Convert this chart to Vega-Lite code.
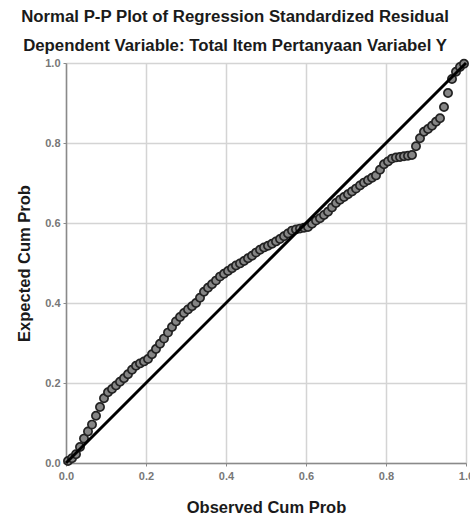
{
  "$schema": "https://vega.github.io/schema/vega-lite/v6.json",
  "autosize": "none",
  "width": 400,
  "height": 400,
  "padding": {"left": 66, "top": 63, "right": 4, "bottom": 53},
  "background": "white",
  "title": {
    "text": "Normal P-P Plot of Regression Standardized Residual",
    "subtitle": "Dependent Variable: Total Item Pertanyaan Variabel Y",
    "anchor": "middle",
    "dx": -31,
    "offset": 1,
    "font": "Liberation Sans",
    "fontSize": 16.8,
    "fontWeight": "bold",
    "color": "#1a1a1a",
    "subtitleFont": "Liberation Sans",
    "subtitleFontSize": 16.8,
    "subtitleFontWeight": "bold",
    "subtitleColor": "#1a1a1a",
    "subtitlePadding": 13
  },
  "config": {
    "view": {"stroke": null},
    "axis": {
      "grid": true,
      "gridColor": "#d4d4d4",
      "gridWidth": 1.5,
      "domainColor": "#8a8a8a",
      "domainWidth": 1.5,
      "tickColor": "#8a8a8a",
      "tickSize": 3,
      "labelFlush": false,
      "labelFont": "Liberation Sans",
      "labelFontSize": 11,
      "labelFontWeight": "bold",
      "labelColor": "#777777",
      "titleFont": "Liberation Sans",
      "titleFontSize": 16.5,
      "titleFontWeight": "bold",
      "titleColor": "#1a1a1a"
    }
  },
  "datasets": {
    "pts": [
      {"obs": 0.005, "exp": 0.005}, {"obs": 0.015, "exp": 0.012}, {"obs": 0.025, "exp": 0.022}, {"obs": 0.035, "exp": 0.04},
      {"obs": 0.045, "exp": 0.061}, {"obs": 0.055, "exp": 0.079}, {"obs": 0.065, "exp": 0.096}, {"obs": 0.075, "exp": 0.118},
      {"obs": 0.085, "exp": 0.14}, {"obs": 0.095, "exp": 0.162}, {"obs": 0.105, "exp": 0.177}, {"obs": 0.115, "exp": 0.185},
      {"obs": 0.125, "exp": 0.194}, {"obs": 0.135, "exp": 0.203}, {"obs": 0.145, "exp": 0.212}, {"obs": 0.155, "exp": 0.222},
      {"obs": 0.165, "exp": 0.233}, {"obs": 0.175, "exp": 0.243}, {"obs": 0.185, "exp": 0.249}, {"obs": 0.195, "exp": 0.254},
      {"obs": 0.205, "exp": 0.26}, {"obs": 0.215, "exp": 0.272}, {"obs": 0.225, "exp": 0.285}, {"obs": 0.235, "exp": 0.298},
      {"obs": 0.245, "exp": 0.311}, {"obs": 0.255, "exp": 0.326}, {"obs": 0.265, "exp": 0.34}, {"obs": 0.275, "exp": 0.354},
      {"obs": 0.285, "exp": 0.365}, {"obs": 0.295, "exp": 0.375}, {"obs": 0.305, "exp": 0.384}, {"obs": 0.315, "exp": 0.392},
      {"obs": 0.325, "exp": 0.4}, {"obs": 0.335, "exp": 0.413}, {"obs": 0.345, "exp": 0.428}, {"obs": 0.355, "exp": 0.438},
      {"obs": 0.365, "exp": 0.447}, {"obs": 0.375, "exp": 0.456}, {"obs": 0.385, "exp": 0.466}, {"obs": 0.395, "exp": 0.473},
      {"obs": 0.405, "exp": 0.48}, {"obs": 0.415, "exp": 0.487}, {"obs": 0.425, "exp": 0.494}, {"obs": 0.435, "exp": 0.499},
      {"obs": 0.445, "exp": 0.505}, {"obs": 0.455, "exp": 0.512}, {"obs": 0.465, "exp": 0.518}, {"obs": 0.475, "exp": 0.526},
      {"obs": 0.485, "exp": 0.533}, {"obs": 0.495, "exp": 0.539}, {"obs": 0.505, "exp": 0.543}, {"obs": 0.515, "exp": 0.548},
      {"obs": 0.525, "exp": 0.554}, {"obs": 0.535, "exp": 0.56}, {"obs": 0.545, "exp": 0.567}, {"obs": 0.555, "exp": 0.574},
      {"obs": 0.565, "exp": 0.581}, {"obs": 0.575, "exp": 0.584}, {"obs": 0.585, "exp": 0.586}, {"obs": 0.595, "exp": 0.588},
      {"obs": 0.605, "exp": 0.59}, {"obs": 0.615, "exp": 0.598}, {"obs": 0.625, "exp": 0.606}, {"obs": 0.635, "exp": 0.612},
      {"obs": 0.645, "exp": 0.62}, {"obs": 0.655, "exp": 0.628}, {"obs": 0.665, "exp": 0.639}, {"obs": 0.675, "exp": 0.65},
      {"obs": 0.685, "exp": 0.658}, {"obs": 0.695, "exp": 0.665}, {"obs": 0.705, "exp": 0.672}, {"obs": 0.715, "exp": 0.679},
      {"obs": 0.725, "exp": 0.686}, {"obs": 0.735, "exp": 0.694}, {"obs": 0.745, "exp": 0.701}, {"obs": 0.755, "exp": 0.707},
      {"obs": 0.765, "exp": 0.713}, {"obs": 0.775, "exp": 0.719}, {"obs": 0.785, "exp": 0.733}, {"obs": 0.795, "exp": 0.747},
      {"obs": 0.805, "exp": 0.754}, {"obs": 0.815, "exp": 0.761}, {"obs": 0.825, "exp": 0.764}, {"obs": 0.835, "exp": 0.765},
      {"obs": 0.845, "exp": 0.767}, {"obs": 0.855, "exp": 0.768}, {"obs": 0.865, "exp": 0.77}, {"obs": 0.875, "exp": 0.792},
      {"obs": 0.885, "exp": 0.812}, {"obs": 0.895, "exp": 0.828}, {"obs": 0.905, "exp": 0.835}, {"obs": 0.915, "exp": 0.843},
      {"obs": 0.925, "exp": 0.853}, {"obs": 0.935, "exp": 0.862}, {"obs": 0.945, "exp": 0.89}, {"obs": 0.955, "exp": 0.925},
      {"obs": 0.965, "exp": 0.96}, {"obs": 0.975, "exp": 0.978}, {"obs": 0.985, "exp": 0.99}, {"obs": 0.995, "exp": 0.998}
    ],
    "diag": [{"obs": 0, "exp": 0}, {"obs": 1, "exp": 1}]
  },
  "layer": [
    {
      "data": {"name": "pts"},
      "mark": {"type": "point", "shape": "circle", "filled": true, "size": 68, "fill": "#858585", "stroke": "#222222", "strokeWidth": 1.7, "opacity": 1},
      "encoding": {
        "x": {"field": "obs", "type": "quantitative", "scale": {"domain": [0, 1], "nice": false}, "axis": {"title": "Observed Cum Prob", "values": [0, 0.2, 0.4, 0.6, 0.8, 1], "format": ".1f", "titlePadding": 18, "labelPadding": 4}},
        "y": {"field": "exp", "type": "quantitative", "scale": {"domain": [0, 1], "nice": false}, "axis": {"title": "Expected Cum Prob", "values": [0, 0.2, 0.4, 0.6, 0.8, 1], "format": ".1f", "titlePadding": 12, "labelPadding": 3}}
      }
    },
    {
      "data": {"name": "diag"},
      "mark": {"type": "line", "color": "#000000", "strokeWidth": 3},
      "encoding": {
        "x": {"field": "obs", "type": "quantitative"},
        "y": {"field": "exp", "type": "quantitative"}
      }
    }
  ]
}
